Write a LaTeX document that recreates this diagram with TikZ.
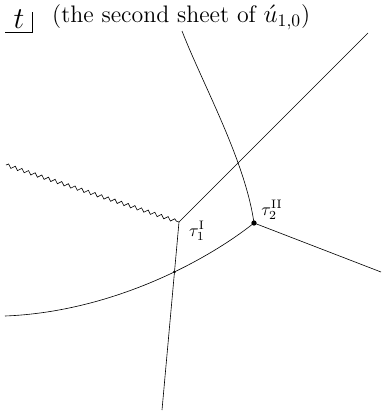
\documentclass[tikz,border=0pt]{standalone}
\usepackage{amsmath}
\usetikzlibrary{decorations.pathmorphing, intersections}

\begin{document}
\begin{tikzpicture}[
    x=0.02cm, y=-0.02cm,
    curve/.style={line width=0.35pt},
    wave/.style={line width=0.35pt, decorate,
      decoration={snake, amplitude=0.35mm, segment length=1.4mm}},
    lbl/.style={font=\normalsize, inner sep=1pt},
  ]
  \useasboundingbox (0,0) rectangle (383,416);
  % corner mark and heading
  \node[font=\fontsize{19}{22}\selectfont] (tvar) at (19,19) {$t$};
  \coordinate (cornerL) at (5,32);
  \coordinate (cornerT) at (32,12);
  \draw[curve] (cornerL) -| (cornerT);
  \node[font=\fontsize{13.6}{16}\selectfont, anchor=west] (title) at (46,17) {(the second sheet of $\acute{u}_{1,0}$)};
  % branch points
  \coordinate (tauI) at (179,222);
  \coordinate (tauII) at (254,223);
  \coordinate (waveEnd) at (6,165);
  \coordinate (diagEnd) at (368,33);
  \coordinate (downEnd) at (162,410);
  \coordinate (leftEnd) at (5,316);
  \coordinate (rightEnd) at (381,272);
  \coordinate (topEnd) at (182,31);
  \draw[wave] (waveEnd) -- (tauI);
  \draw[curve] (tauI) -- (diagEnd);
  \draw[curve, name path=down] (tauI) -- (downEnd);
  \draw[curve, name path=lowcurve] (leftEnd) .. controls (110,312) and (205,262) .. (tauII);
  \draw[curve] (tauII) -- (rightEnd);
  \draw[curve] (topEnd) .. controls (203,85) and (245,160) .. (tauII);
  \fill (tauII) circle (1.5pt);
  \fill[name intersections={of=lowcurve and down}] (intersection-1) circle (0.8pt);
  \node[lbl] (labI) at (197,231) {$\tau_1^{\mathrm{I}}$};
  \node[lbl] (labII) at (272,210) {$\tau_2^{\mathrm{II}}$};
\end{tikzpicture}
\end{document}
